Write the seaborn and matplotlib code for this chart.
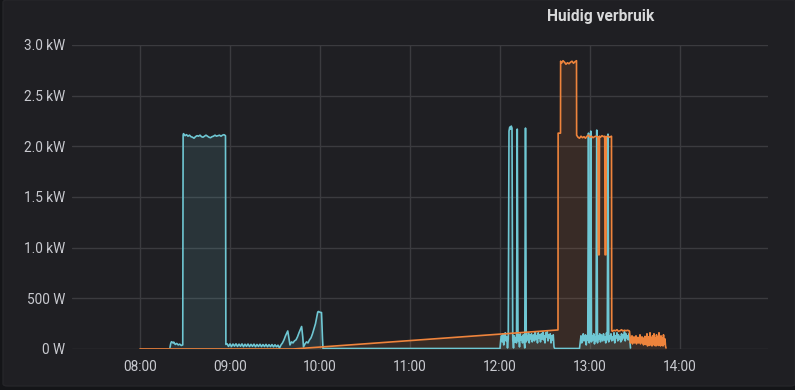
import numpy as np
import pandas as pd
import matplotlib
matplotlib.use("Agg")
import matplotlib.pyplot as plt
import matplotlib.dates as mdates
from matplotlib.patches import FancyBboxPatch
import seaborn as sns

DAY = "2021-03-01 "

# ---------------- data ----------------
title_text = "Huidig verbruik"
x_tick_labels = ["08:00", "09:00", "10:00", "11:00", "12:00", "13:00", "14:00"]
y_tick_values = [0, 500, 1000, 1500, 2000, 2500, 3000]
y_tick_labels = ["0 W", "500 W", "1.0 kW", "1.5 kW", "2.0 kW", "2.5 kW", "3.0 kW"]

# cyan series: explicit points
cyan_times_1 = ["08:20:00", "08:20:30", "08:21:00", "08:22:00", "08:22:30", "08:23:30",
                "08:24:30", "08:25:30", "08:26:30", "08:27:30", "08:28:30", "08:28:45",
                "08:29:00", "08:30:00", "08:31:00", "08:32:00", "08:33:00", "08:34:00",
                "08:35:00", "08:36:00", "08:37:00", "08:38:00", "08:39:00", "08:40:00",
                "08:41:00", "08:42:00", "08:43:00", "08:44:00", "08:45:00", "08:46:00",
                "08:47:00", "08:48:00", "08:49:00", "08:50:00", "08:51:00", "08:52:00",
                "08:53:00", "08:54:00", "08:55:00", "08:56:00", "08:57:00", "08:57:15"]
cyan_watts_1 = [15, 55, 72, 60, 68, 45, 55, 40, 48, 35, 40, 2110,
                2125, 2105, 2115, 2100, 2110, 2095, 2090, 2080, 2095, 2105, 2100, 2110,
                2095, 2090, 2100, 2110, 2100, 2090, 2085, 2095, 2100, 2110, 2100, 2105,
                2110, 2100, 2110, 2115, 2105, 45]
# cyan low band 08:58 - 09:32, one value per minute
cyan_band_start = "08:58:00"
cyan_band_step_s = 60
cyan_band_watts = [52, 26, 50, 24, 49, 28, 51, 25, 48, 27, 50, 23, 47, 26, 49, 24, 46, 26,
                   48, 22, 45, 25, 47, 23, 44, 24, 46, 22, 43, 23, 44, 21, 42, 22, 38]
cyan_times_2 = ["09:33:00", "09:34:00", "09:35:00", "09:36:00", "09:37:00", "09:38:30",
                "09:39:30", "09:40:00", "09:41:00", "09:42:00", "09:43:00", "09:44:00",
                "09:45:00", "09:46:00", "09:47:45", "09:48:30", "09:49:00", "09:50:00",
                "09:51:00", "09:52:00", "09:53:00", "09:54:00", "09:55:00", "09:56:00",
                "09:57:00", "09:58:30", "09:59:00", "10:00:00", "10:01:00", "10:01:40",
                "10:02:00", "11:00:00", "12:00:00"]
cyan_watts_2 = [10, 40, 60, 90, 130, 178, 90, 40, 70, 60, 80, 90, 120, 160, 222, 120, 20,
                50, 70, 60, 90, 110, 150, 200, 250, 365, 370, 362, 360, 100, 5, 5, 5]
# cyan noisy block 12:00:30 - 12:37:00, every 30 s
cyan_noise_a_start = "12:00:30"
cyan_noise_step_s = 30
cyan_noise_a = [90, 130, 70, 150, 40, 110, 160, 80, 120, 10, 100, 2150, 2190, 2170, 2200,
                2180, 90, 10, 130, 70, 110, 60, 2170, 80, 140, 20, 150, 90, 120, 60, 140,
                100, 10, 2180, 70, 130, 90, 160, 60, 140, 100, 150, 70, 120, 140, 80, 170,
                100, 130, 60, 160, 110, 140, 70, 150, 100, 170, 90, 130, 60, 160, 120, 170,
                80, 140, 110, 150, 60, 130, 90, 140, 20, 5, 5]
cyan_times_3 = ["12:45:00", "12:52:30"]
cyan_watts_3 = [5, 5]
# cyan noisy block 12:53:00 - 13:27:00, every 30 s
cyan_noise_b_start = "12:53:00"
cyan_noise_b = [5, 70, 130, 60, 110, 150, 80, 120, 140, 40, 130, 90, 2130, 60, 110, 2150,
                70, 130, 90, 150, 50, 120, 80, 2160, 60, 130, 100, 150, 70, 140, 110, 80,
                150, 90, 120, 60, 160, 90, 2120, 70, 130, 100, 150, 80, 120, 90, 160, 60,
                130, 110, 160, 80, 140, 100, 120, 70, 150, 90, 140, 110, 170, 80, 150, 110,
                130, 90, 150, 100, 10]

# orange series: explicit points
orange_times_1 = ["08:00:00", "09:42:00", "12:38:40", "12:38:45", "12:40:20", "12:40:25",
                  "12:41:00", "12:42:00", "12:43:00", "12:44:00", "12:45:00", "12:46:00",
                  "12:47:00", "12:48:00", "12:49:00", "12:50:00", "12:51:00", "12:51:05",
                  "12:52:00", "12:53:00", "12:54:00", "12:55:00", "12:56:00", "12:57:00",
                  "12:58:00", "12:59:00", "13:00:00", "13:01:00", "13:02:00", "13:03:00",
                  "13:04:00", "13:05:00", "13:05:20", "13:05:30", "13:06:10", "13:06:20",
                  "13:07:00", "13:08:00", "13:09:00", "13:09:50", "13:10:00", "13:10:40",
                  "13:10:50", "13:12:00", "13:13:00", "13:14:20", "13:14:30", "13:15:00",
                  "13:16:00", "13:17:00", "13:18:00", "13:19:00", "13:20:00", "13:21:00",
                  "13:22:00", "13:23:00", "13:24:00", "13:25:00", "13:26:00", "13:26:20"]
orange_watts_1 = [0, 0, 188, 2130, 2130, 2840,
                  2820, 2845, 2830, 2810, 2825, 2815, 2830, 2840, 2820, 2835, 2845, 2110,
                  2090, 2080, 2100, 2085, 2095, 2080, 2100, 2110, 2090, 2100, 2085, 2095,
                  2100, 2090, 2095, 930, 930, 2100, 2090, 2105, 2095, 2100, 930, 930,
                  2095, 2100, 2090, 2100, 180, 175, 185, 180, 190, 175, 180, 190, 178, 185,
                  180, 185, 180, 175]
# orange noisy block 13:26:40 - 13:51, every 20 s
orange_noise_start = "13:26:40"
orange_noise_step_s = 20
orange_noise = [120, 60, 110, 70, 130, 50, 100, 80, 120, 60, 110, 90, 130, 50, 105, 70, 115,
                60, 100, 80, 140, 50, 110, 70, 120, 60, 110, 40, 100, 60, 125, 45, 100, 50,
                150, 30, 80, 120, 35, 60, 160, 40, 70, 110, 30, 130, 45, 80, 150, 35, 60,
                110, 30, 140, 40, 75, 120, 35, 160, 50, 90, 30, 130, 40, 70, 110, 30, 140,
                45, 80, 100, 30, 10]

cyan_color = "#6fc7d3"
orange_color = "#ef843c"


def pts(times):
    return list(pd.to_datetime([DAY + t for t in times]))


def rng(start, step, n):
    return list(pd.date_range(DAY + start, periods=n, freq=f"{step}s"))


cyan_t = (pts(cyan_times_1) + rng(cyan_band_start, cyan_band_step_s, len(cyan_band_watts))
          + pts(cyan_times_2) + rng(cyan_noise_a_start, cyan_noise_step_s, len(cyan_noise_a))
          + pts(cyan_times_3) + rng(cyan_noise_b_start, cyan_noise_step_s, len(cyan_noise_b)))
cyan_w = (cyan_watts_1 + cyan_band_watts + cyan_watts_2 + cyan_noise_a
          + cyan_watts_3 + cyan_noise_b)
orange_t = pts(orange_times_1) + rng(orange_noise_start, orange_noise_step_s, len(orange_noise))
orange_w = orange_watts_1 + orange_noise

df = pd.concat([
    pd.DataFrame({"time": cyan_t, "watt": cyan_w, "series": "a"}),
    pd.DataFrame({"time": orange_t, "watt": orange_w, "series": "b"}),
], ignore_index=True)

# ---------------- style ----------------
sns.set_theme(style="dark")
plt.rcParams["font.family"] = ["Roboto", "DejaVu Sans"]

W, H = 795, 390
fig = plt.figure(figsize=(W / 100, H / 100), dpi=100)
fig.patch.set_facecolor("#141518")
panel = FancyBboxPatch((3 / W, 4 / H), (W - 3) / W, (H - 4) / H,
                       boxstyle="round,pad=0,rounding_size=0.006",
                       transform=fig.transFigure, facecolor="#1f1f23",
                       edgecolor="#252529", lw=1, zorder=-10)
fig.patches.append(panel)

ax = fig.add_axes([72 / W, 41 / H, 696 / W, 304 / H])
ax.set_facecolor("none")
ax.set_zorder(5)

sns.lineplot(data=df, x="time", y="watt", hue="series",
             palette={"a": cyan_color, "b": orange_color},
             estimator=None, sort=False, legend=False, lw=1.2, ax=ax, zorder=3)
ax.fill_between(df[df.series == "a"]["time"], df[df.series == "a"]["watt"],
                color=cyan_color, alpha=0.13, lw=0, zorder=2)
ax.fill_between(df[df.series == "b"]["time"], df[df.series == "b"]["watt"],
                color=orange_color, alpha=0.12, lw=0, zorder=2)

ax.set_xlim(pd.Timestamp(DAY + "07:14:40"), pd.Timestamp(DAY + "14:58:40"))
ax.set_ylim(0, 3000)
ax.set_xticks(pts([t + ":00" for t in x_tick_labels]))
ax.set_xticklabels(x_tick_labels)
ax.set_yticks(y_tick_values)
ax.set_yticklabels(y_tick_labels)

ax.grid(True, color="#3b3b3f", lw=1)
ax.set_axisbelow(True)
for s in ax.spines.values():
    s.set_visible(False)
ax.tick_params(axis="both", length=0, colors="#c9cad0", labelsize=9.8)
ax.tick_params(axis="y", pad=5)
ax.tick_params(axis="x", pad=8)
ax.set_xlabel("")
ax.set_ylabel("")

fig.text(601 / W, 1 - 17 / H, title_text, ha="center", va="center",
         color="#d8d9da", fontsize=11.2, fontweight="semibold")

fig.savefig("out.png", dpi=100, facecolor=fig.get_facecolor())
